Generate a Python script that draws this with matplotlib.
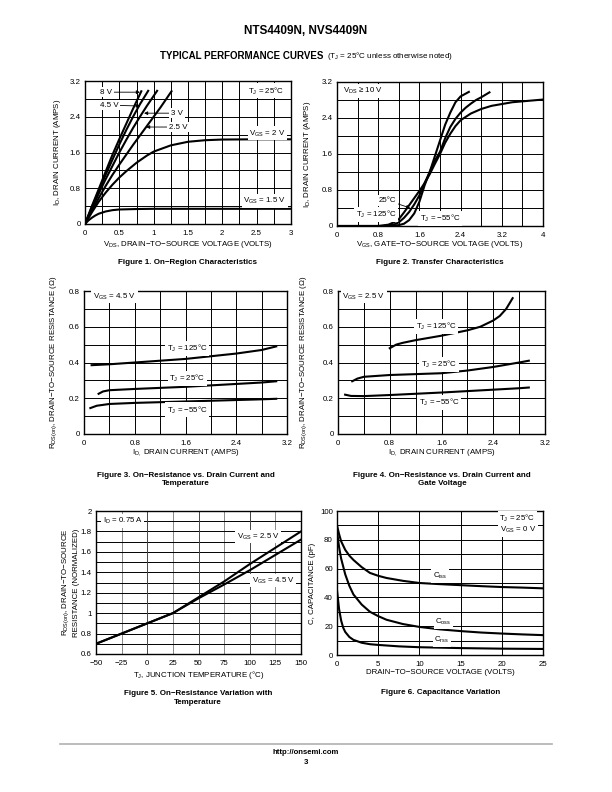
import matplotlib
matplotlib.use("Agg")
import matplotlib.pyplot as plt
from matplotlib.lines import Line2D
import numpy as np

plt.rcParams['font.family'] = ['Liberation Sans', 'DejaVu Sans']
plt.rcParams['mathtext.fontset'] = 'custom'
plt.rcParams['mathtext.rm'] = 'Liberation Sans'

MINUS = '\u2212'
DEG = '\u00b0'

# ---------------- data ----------------
# Figure 1: On-region characteristics (ID vs VDS)
f1_v8_x = [0, 0.1, 0.2, 0.3, 0.4, 0.5, 0.6, 0.7, 0.82]
f1_v8_y = [0, 0.40, 0.78, 1.17, 1.55, 1.90, 2.24, 2.58, 2.97]
f1_v45_x = [0, 0.1, 0.2, 0.3, 0.4, 0.5, 0.6, 0.7, 0.8, 0.92]
f1_v45_y = [0, 0.38, 0.74, 1.10, 1.44, 1.78, 2.10, 2.40, 2.68, 2.98]
f1_v3_x = [0, 0.1, 0.2, 0.3, 0.4, 0.5, 0.6, 0.7, 0.8, 0.9, 1.05]
f1_v3_y = [0, 0.35, 0.68, 1.00, 1.30, 1.60, 1.88, 2.15, 2.40, 2.64, 2.98]
f1_v25_x = [0, 0.1, 0.2, 0.3, 0.4, 0.5, 0.6, 0.7, 0.8, 0.9, 1.0, 1.1, 1.26]
f1_v25_y = [0, 0.30, 0.58, 0.85, 1.10, 1.33, 1.55, 1.77, 1.98, 2.19, 2.40, 2.61, 2.97]
f1_v2_x = [0, 0.1, 0.2, 0.3, 0.4, 0.5, 0.6, 0.75, 0.9, 1.0, 1.25, 1.5, 1.75, 2.0, 2.5, 3.0]
f1_v2_y = [0, 0.26, 0.50, 0.70, 0.88, 1.04, 1.18, 1.37, 1.53, 1.62, 1.76, 1.84, 1.875, 1.89, 1.895, 1.895]
f1_v15_x = [0, 0.05, 0.1, 0.15, 0.2, 0.3, 0.4, 0.5, 0.75, 1.0, 1.5, 2.0, 3.0]
f1_v15_y = [0, 0.08, 0.14, 0.19, 0.23, 0.28, 0.31, 0.325, 0.335, 0.34, 0.34, 0.34, 0.34]

# Figure 2: Transfer characteristics (ID vs VGS)
f2_t125_x = [0, 0.8, 1.0, 1.1, 1.2, 1.3, 1.4, 1.5, 1.6, 1.7, 1.8, 1.9, 2.0, 2.1, 2.2, 2.3, 2.4, 2.6, 2.8, 3.0, 3.4, 4.0]
f2_t125_y = [0, 0.0, 0.03, 0.08, 0.15, 0.30, 0.46, 0.62, 0.78, 0.95, 1.15, 1.38, 1.60, 1.85, 2.05, 2.22, 2.35, 2.50, 2.60, 2.67, 2.75, 2.81]
f2_t25_x = [0, 0.9, 1.1, 1.2, 1.3, 1.4, 1.5, 1.6, 1.7, 1.8, 1.9, 2.0, 2.1, 2.2, 2.3, 2.4, 2.5, 2.6, 2.7, 2.8, 2.96]
f2_t25_y = [0, 0.0, 0.03, 0.08, 0.18, 0.31, 0.48, 0.68, 0.95, 1.20, 1.45, 1.65, 1.95, 2.20, 2.38, 2.52, 2.63, 2.72, 2.80, 2.86, 2.97]
f2_tm55_x = [0, 1.0, 1.2, 1.3, 1.4, 1.5, 1.6, 1.7, 1.8, 1.9, 2.0, 2.1, 2.2, 2.3, 2.4, 2.56]
f2_tm55_y = [0, 0.0, 0.02, 0.05, 0.13, 0.28, 0.54, 0.90, 1.20, 1.55, 1.90, 2.25, 2.52, 2.75, 2.88, 2.98]

# Figure 3: RDS(on) vs ID, VGS = 4.5 V
f3_t125_x = [0.12, 0.4, 0.8, 1.2, 1.6, 2.0, 2.4, 2.8, 3.03]
f3_t125_y = [0.385, 0.39, 0.40, 0.41, 0.42, 0.435, 0.45, 0.47, 0.49]
f3_t25_x = [0.23, 0.3, 0.4, 0.8, 1.2, 1.6, 2.0, 2.4, 2.8, 3.03]
f3_t25_y = [0.225, 0.238, 0.245, 0.252, 0.258, 0.264, 0.272, 0.28, 0.288, 0.295]
f3_tm55_x = [0.1, 0.2, 0.4, 0.8, 1.2, 1.6, 2.0, 2.4, 2.8, 3.03]
f3_tm55_y = [0.145, 0.158, 0.168, 0.174, 0.178, 0.182, 0.186, 0.19, 0.194, 0.197]

# Figure 4: RDS(on) vs ID, VGS = 2.5 V
f4_t125_x = [0.8, 0.9, 1.0, 1.2, 1.6, 2.0, 2.2, 2.4, 2.5, 2.6, 2.7]
f4_t125_y = [0.48, 0.50, 0.51, 0.525, 0.55, 0.58, 0.60, 0.635, 0.66, 0.70, 0.76]
f4_t25_x = [0.22, 0.3, 0.4, 0.8, 1.2, 1.6, 2.0, 2.4, 2.8, 2.95]
f4_t25_y = [0.295, 0.31, 0.32, 0.33, 0.335, 0.34, 0.355, 0.375, 0.40, 0.41]
f4_tm55_x = [0.11, 0.2, 0.4, 0.8, 1.2, 1.6, 2.0, 2.4, 2.8, 2.95]
f4_tm55_y = [0.22, 0.213, 0.212, 0.218, 0.225, 0.232, 0.24, 0.248, 0.256, 0.26]

# Figure 5: normalized RDS(on) vs TJ
f5_tj = [-50, -25, 0, 25, 50, 75, 100, 125, 150]
f5_vgs25 = [0.70, 0.80, 0.90, 1.00, 1.155, 1.31, 1.48, 1.64, 1.80]
f5_vgs45 = [0.70, 0.80, 0.90, 1.00, 1.145, 1.28, 1.42, 1.57, 1.72]

# Figure 6: capacitance vs VDS
f6_ciss_x = [0, 0.25, 0.5, 1, 1.5, 2, 3, 4, 5, 6, 8, 10, 12.5, 15, 17.5, 20, 22.5, 25]
f6_ciss_y = [90, 84, 79, 73, 69, 66, 61, 57, 55, 53.5, 51.5, 50, 49.2, 48.5, 47.8, 47.2, 46.8, 46.3]
f6_coss_x = [0, 0.25, 0.5, 1, 1.5, 2, 3, 4, 5, 6, 8, 10, 12.5, 15, 17.5, 20, 22.5, 25]
f6_coss_y = [86, 75, 67, 56, 48, 42, 35, 30, 27, 24.5, 21.5, 19.5, 17.8, 16.6, 15.6, 14.9, 14.3, 13.8]
f6_crss_x = [0, 0.25, 0.5, 0.75, 1, 1.5, 2, 3, 4, 5, 7.5, 10, 15, 20, 25]
f6_crss_y = [45, 32, 24, 19, 16, 12.5, 10.5, 8.5, 7.5, 7, 6, 5.4, 4.8, 4.4, 4.2]

# tick labels
f1_xticks = ["0", "0.5", "1", "1.5", "2", "2.5", "3"]
amp_ticks = ["0", "0.8", "1.6", "2.4", "3.2"]
f2_xticks = ["0", "0.8", "1.6", "2.4", "3.2", "4"]
ohm_ticks = ["0", "0.2", "0.4", "0.6", "0.8"]
f5_xticks = [MINUS + "50", MINUS + "25", "0", "25", "50", "75", "100", "125", "150"]
f5_yticks = ["0.6", "0.8", "1", "1.2", "1.4", "1.6", "1.8", "2"]
f6_xticks = ["0", "5", "10", "15", "20", "25"]
f6_yticks = ["0", "20", "40", "60", "80", "100"]

# ---------------- figure ----------------
W, H = 612, 792
fig = plt.figure(figsize=(W / 100, H / 100), dpi=100)

FS = 5.7
LW = 1.5


def make_ax(l, r, t, b):
    return fig.add_axes([l / W, 1 - b / H, (r - l) / W, (b - t) / H])


def style(ax, xlim, ylim, xmaj, xlabels, ymaj, ylabels, xgrid, ygrid,
          xlab, ylab, xlab_y, ylab_x, vgrid_color='black'):
    ax.set_xlim(*xlim)
    ax.set_ylim(*ylim)
    ax.set_xticks(xmaj)
    ax.set_xticklabels(xlabels)
    ax.set_yticks(ymaj)
    ax.set_yticklabels(ylabels)
    for g in xgrid:
        ax.axvline(g, color=vgrid_color, lw=0.7, zorder=1)
    for g in ygrid:
        ax.axhline(g, color='black', lw=0.7, zorder=1)
    ax.tick_params(length=0, labelsize=FS, pad=3)
    ax.tick_params(axis='x', pad=4)
    for s in ax.spines.values():
        s.set_linewidth(1.0)
    ax.set_xlabel(xlab, fontsize=FS)
    ax.xaxis.label.set_verticalalignment('center')
    ax.xaxis.set_label_coords(0.5, xlab_y)
    ax.set_ylabel(ylab, fontsize=FS, linespacing=1.1)
    ax.yaxis.label.set_verticalalignment('center')
    ax.yaxis.set_label_coords(ylab_x, 0.5)


box = dict(facecolor='white', edgecolor='none', pad=1.2)


def label(ax, x, y, s, ha='center'):
    ax.text(x, y, s, fontsize=FS, ha=ha, va='center', bbox=box, zorder=5)


TJ = r'T$_\mathregular{J}$'
VGS = r'V$_\mathregular{GS}$'
VDS = r'V$_\mathregular{DS}$'
ID = r'I$_\mathregular{D}$'
RDS = r'R$_\mathregular{DS(on)}$'

# ---- Figure 1 ----
ax1 = make_ax(85, 291, 81, 224)
style(ax1, (0, 3), (0, 3.2), [0, 0.5, 1, 1.5, 2, 2.5, 3], f1_xticks,
      [0, 0.8, 1.6, 2.4, 3.2], amp_ticks,
      np.arange(0.25, 3, 0.25), np.arange(0.4, 3.2, 0.4),
      VDS + ', DRAIN' + MINUS + 'TO' + MINUS + 'SOURCE VOLTAGE (VOLTS)',
      ID + ', DRAIN CURRENT (AMPS)', -0.14, -0.135)
for xs, ys in [(f1_v8_x, f1_v8_y), (f1_v45_x, f1_v45_y), (f1_v3_x, f1_v3_y),
               (f1_v25_x, f1_v25_y), (f1_v2_x, f1_v2_y), (f1_v15_x, f1_v15_y)]:
    ax1.plot(xs, ys, color='black', lw=LW, zorder=3)
arr = dict(arrowstyle='-|>', lw=0.6, color='black', mutation_scale=5, shrinkA=0, shrinkB=0)
ax1.annotate('8 V', xy=(0.80, 2.95), xytext=(0.31, 2.95), fontsize=FS, ha='center', va='center',
             bbox=box, arrowprops=arr, zorder=5)
ax1.annotate('4.5 V', xy=(0.80, 2.64), xytext=(0.35, 2.66), fontsize=FS, ha='center', va='center',
             bbox=box, arrowprops=arr, zorder=5)
ax1.annotate('3 V', xy=(0.86, 2.48), xytext=(1.34, 2.48), fontsize=FS, ha='center', va='center',
             bbox=box, arrowprops=arr, zorder=5)
ax1.annotate('2.5 V', xy=(0.89, 2.17), xytext=(1.36, 2.17), fontsize=FS, ha='center', va='center',
             bbox=box, arrowprops=arr, zorder=5)
label(ax1, 2.64, 2.98, TJ + ' = 25' + DEG + 'C')
label(ax1, 2.66, 2.03, VGS + ' = 2 V')
label(ax1, 2.62, 0.52, VGS + ' = 1.5 V')

# ---- Figure 2 ----
ax2 = make_ax(337, 543, 82, 226)
style(ax2, (0, 4), (0, 3.2), [0, 0.8, 1.6, 2.4, 3.2, 4], f2_xticks,
      [0, 0.8, 1.6, 2.4, 3.2], amp_ticks,
      np.arange(0.4, 4, 0.4), np.arange(0.4, 3.2, 0.4),
      VGS + ', GATE' + MINUS + 'TO' + MINUS + 'SOURCE VOLTAGE (VOLTS)',
      ID + ', DRAIN CURRENT (AMPS)', -0.125, -0.145)
for xs, ys in [(f2_t125_x, f2_t125_y), (f2_t25_x, f2_t25_y), (f2_tm55_x, f2_tm55_y)]:
    ax2.plot(xs, ys, color='black', lw=LW, zorder=3)
label(ax2, 0.5, 3.0, VDS + ' \u2265 10 V')
ax2.annotate('25' + DEG + 'C', xy=(1.42, 0.40), xytext=(0.98, 0.57), fontsize=FS, ha='center',
             va='center', bbox=box, arrowprops=arr, zorder=5)
label(ax2, 0.76, 0.26, TJ + ' = 125' + DEG + 'C')
label(ax2, 2.0, 0.17, TJ + ' = ' + MINUS + '55' + DEG + 'C')

# ---- Figure 3 ----
ax3 = make_ax(84, 287, 291, 434)
style(ax3, (0, 3.2), (0, 0.8), [0, 0.8, 1.6, 2.4, 3.2], amp_ticks,
      [0, 0.2, 0.4, 0.6, 0.8], ohm_ticks,
      np.arange(0.4, 3.2, 0.4), np.arange(0.1, 0.8, 0.1),
      r'I$_\mathregular{D,}$ DRAIN CURRENT (AMPS)',
      RDS + ', DRAIN' + MINUS + 'TO' + MINUS + 'SOURCE RESISTANCE (\u03a9)', -0.133, -0.145)
for xs, ys in [(f3_t125_x, f3_t125_y), (f3_t25_x, f3_t25_y), (f3_tm55_x, f3_tm55_y)]:
    ax3.plot(xs, ys, color='black', lw=LW, zorder=3)
label(ax3, 0.48, 0.77, VGS + ' = 4.5 V')
label(ax3, 1.63, 0.48, TJ + ' = 125' + DEG + 'C')
label(ax3, 1.63, 0.31, TJ + ' = 25' + DEG + 'C')
label(ax3, 1.63, 0.135, TJ + ' = ' + MINUS + '55' + DEG + 'C')

# ---- Figure 4 ----
ax4 = make_ax(338, 545, 291, 434)
style(ax4, (0, 3.2), (0, 0.8), [0, 0.8, 1.6, 2.4, 3.2], amp_ticks,
      [0, 0.2, 0.4, 0.6, 0.8], ohm_ticks,
      np.arange(0.4, 3.2, 0.4), np.arange(0.1, 0.8, 0.1),
      r'I$_\mathregular{D,}$ DRAIN CURRENT (AMPS)',
      RDS + ', DRAIN' + MINUS + 'TO' + MINUS + 'SOURCE RESISTANCE (\u03a9)', -0.133, -0.16)
for xs, ys in [(f4_t125_x, f4_t125_y), (f4_t25_x, f4_t25_y), (f4_tm55_x, f4_tm55_y)]:
    ax4.plot(xs, ys, color='black', lw=LW, zorder=3)
label(ax4, 0.40, 0.77, VGS + ' = 2.5 V')
label(ax4, 1.52, 0.60, TJ + ' = 125' + DEG + 'C')
label(ax4, 1.56, 0.39, TJ + ' = 25' + DEG + 'C')
label(ax4, 1.56, 0.175, TJ + ' = ' + MINUS + '55' + DEG + 'C')

# ---- Figure 5 ----
ax5 = make_ax(96, 301, 511, 654)
style(ax5, (-50, 150), (0.6, 2.0), [-50, -25, 0, 25, 50, 75, 100, 125, 150], f5_xticks,
      [0.6, 0.8, 1.0, 1.2, 1.4, 1.6, 1.8, 2.0], f5_yticks,
      [-25, 25, 75, 125], np.arange(0.7, 2.0, 0.1),
      TJ + ', JUNCTION TEMPERATURE (' + DEG + 'C)',
      RDS + ', DRAIN' + MINUS + 'TO' + MINUS + 'SOURCE\nRESISTANCE (NORMALIZED)', -0.147, -0.125,
      vgrid_color='#888888')
for g in [0, 50, 100]:
    ax5.axvline(g, color='#444444', lw=0.7, zorder=1)
ax5.plot(f5_tj, f5_vgs25, color='black', lw=LW, zorder=3)
ax5.plot(f5_tj, f5_vgs45, color='black', lw=LW, zorder=3)
label(ax5, -24, 1.9, ID + ' = 0.75 A')
label(ax5, 108, 1.75, VGS + ' = 2.5 V')
label(ax5, 123, 1.32, VGS + ' = 4.5 V')

# ---- Figure 6 ----
ax6 = make_ax(337, 543, 511, 655)
style(ax6, (0, 25), (0, 100), [0, 5, 10, 15, 20, 25], f6_xticks,
      [0, 20, 40, 60, 80, 100], f6_yticks,
      [5, 10, 15, 20], np.arange(10, 100, 10),
      'DRAIN' + MINUS + 'TO' + MINUS + 'SOURCE VOLTAGE (VOLTS)',
      'C, CAPACITANCE (pF)', -0.125, -0.117)
for xs, ys in [(f6_ciss_x, f6_ciss_y), (f6_coss_x, f6_coss_y), (f6_crss_x, f6_crss_y)]:
    ax6.plot(xs, ys, color='black', lw=LW, zorder=3)
label(ax6, 12.5, 55, r'C$_\mathregular{iss}$')
label(ax6, 12.9, 23, r'C$_\mathregular{oss}$')
label(ax6, 12.7, 10.4, r'C$_\mathregular{rss}$')
label(ax6, 21.9, 95, TJ + ' = 25' + DEG + 'C')
label(ax6, 22.0, 86.8, VGS + ' = 0 V')

# ---------------- page text ----------------
def ftext(x, y, s, **kw):
    fig.text(x / W, 1 - y / H, s, **kw)

ftext(306, 31, 'NTS4409N, NVS4409N', fontsize=8.5, fontweight='bold', ha='center', va='center')
ftext(160, 56, 'TYPICAL PERFORMANCE CURVES', fontsize=7, fontweight='bold', ha='left', va='center')
ftext(327, 56.5, '(' + TJ + ' = 25' + DEG + 'C unless otherwise noted)', fontsize=5.8,
      ha='left', va='center')

CFS = 5.8
ftext(188, 263, 'Figure 1. On' + MINUS + 'Region Characteristics', fontsize=CFS, fontweight='bold',
      ha='center', va='center')
ftext(440, 263, 'Figure 2. Transfer Characteristics', fontsize=CFS, fontweight='bold',
      ha='center', va='center')
ftext(186, 479.5, 'Figure 3. On' + MINUS + 'Resistance vs. Drain Current and\nTemperature', fontsize=CFS,
      fontweight='bold', ha='center', va='center', linespacing=1.25)
ftext(442, 479.5, 'Figure 4. On' + MINUS + 'Resistance vs. Drain Current and\nGate Voltage', fontsize=CFS,
      fontweight='bold', ha='center', va='center', linespacing=1.25)
ftext(198, 698, 'Figure 5. On' + MINUS + 'Resistance Variation with\nTemperature', fontsize=CFS,
      fontweight='bold', ha='center', va='center', linespacing=1.25)
ftext(441, 692, 'Figure 6. Capacitance Variation', fontsize=CFS, fontweight='bold',
      ha='center', va='center')

fig.add_artist(Line2D([60 / W, 552 / W], [1 - 744 / H, 1 - 744 / H], color='#b0b0b0', lw=1.2))
ftext(306, 752.5, 'http://onsemi.com', fontsize=5.6, fontweight='bold', ha='center', va='center')
ftext(306, 762, '3', fontsize=5.6, fontweight='bold', ha='center', va='center')

fig.savefig('out.png', dpi=100)
